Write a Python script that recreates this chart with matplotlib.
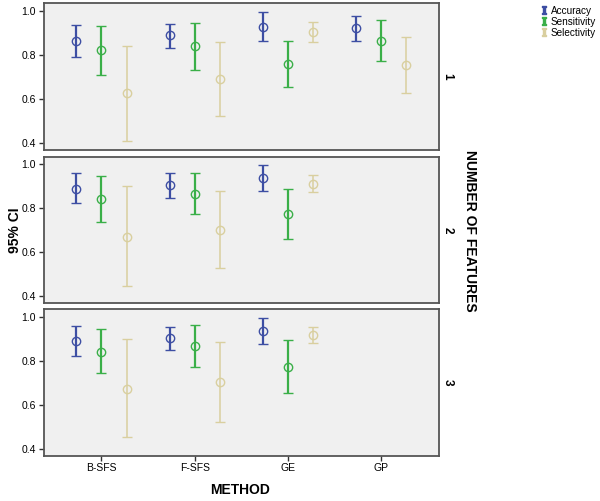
import matplotlib
matplotlib.use("Agg")
import matplotlib.pyplot as plt
from matplotlib.lines import Line2D
import numpy as np

plt.rcParams['font.family'] = ['Liberation Sans', 'DejaVu Sans']

methods = ["B-SFS", "F-SFS", "GE", "GP"]
measures = ["Accuracy", "Sensitivity", "Selectivity"]
panels = ["1", "2", "3"]

# mean, upper, lower per panel, per measure, per method (None = missing)
acc_mean = [[0.864, 0.888, 0.927, 0.920], [0.889, 0.903, 0.936, None], [0.890, 0.901, 0.933, None]]
acc_hi = [[0.936, 0.942, 0.995, 0.977], [0.958, 0.958, 0.995, None], [0.957, 0.954, 0.991, None]]
acc_lo = [[0.788, 0.833, 0.861, 0.861], [0.824, 0.847, 0.876, None], [0.822, 0.848, 0.875, None]]

sens_mean = [[0.821, 0.838, 0.760, 0.865], [0.841, 0.865, 0.773, None], [0.840, 0.864, 0.772, None]]
sens_hi = [[0.933, 0.944, 0.864, 0.956], [0.945, 0.961, 0.886, None], [0.942, 0.961, 0.894, None]]
sens_lo = [[0.710, 0.730, 0.656, 0.771], [0.739, 0.771, 0.659, None], [0.742, 0.769, 0.651, None]]

sel_mean = [[0.626, 0.689, 0.905, 0.753], [0.670, 0.702, 0.912, None], [0.673, 0.704, 0.918, None]]
sel_hi = [[0.839, 0.857, 0.948, 0.879], [0.900, 0.880, 0.953, None], [0.897, 0.885, 0.951, None]]
sel_lo = [[0.410, 0.523, 0.857, 0.627], [0.444, 0.526, 0.873, None], [0.451, 0.522, 0.881, None]]

colors = ["#3d4ea3", "#3aaf48", "#d9cf9f"]
widths = [1.6, 1.6, 1.1]
offsets = [-0.27, 0.0, 0.27]

series = [(acc_mean, acc_hi, acc_lo), (sens_mean, sens_hi, sens_lo), (sel_mean, sel_hi, sel_lo)]

fig = plt.figure(figsize=(6.0, 5.01), dpi=100)
left, width = 0.0728, 0.659
boxes = [(0.7006, 0.9934), (0.3952, 0.6872), (0.0904, 0.3832)]

for p, (b, t) in enumerate(boxes):
    ax = fig.add_axes([left, b, width, t - b])
    ax.set_facecolor("#f0f0f0")
    for k, (m, hi, lo) in enumerate(series):
        for i in range(len(methods)):
            if m[p][i] is None:
                continue
            x = i + offsets[k]
            yerr = [[m[p][i] - lo[p][i]], [hi[p][i] - m[p][i]]]
            ax.errorbar([x], [m[p][i]], yerr=yerr, fmt="o", color=colors[k],
                        mfc="none", mec=colors[k], ms=6, mew=1.0,
                        elinewidth=widths[k], capsize=3.5, capthick=widths[k])
    ax.set_xlim(-0.62, 3.62)
    ax.set_ylim(0.368, 1.034)
    ax.set_yticks([0.4, 0.6, 0.8, 1.0])
    ax.set_yticklabels(["0.4", "0.6", "0.8", "1.0"], fontsize=7.5)
    ax.set_xticks(range(len(methods)))
    if p == 2:
        ax.set_xticklabels(methods, fontsize=7.5)
    else:
        ax.tick_params(axis="x", bottom=False, labelbottom=False)
    ax.tick_params(axis="both", direction="out", length=3.5, width=1, color="#333333", pad=2)
    for s in ax.spines.values():
        s.set_color("#555555")
        s.set_linewidth(1.3)
    ax.text(1.006, 0.5, panels[p], transform=ax.transAxes, rotation=-90,
            ha="left", va="center", fontsize=8.5, fontweight="bold")

fig.text(0.025, 0.54, "95% CI", rotation=90, ha="center", va="center",
         fontsize=10, fontweight="bold")
fig.text(0.40, 0.022, "METHOD", ha="center", va="center",
         fontsize=10, fontweight="bold")
fig.text(0.783, 0.54, "NUMBER OF FEATURES", rotation=-90, ha="center", va="center",
         fontsize=10, fontweight="bold")

handles = [Line2D([], [], linestyle="none", marker=r"$\mathtt{I}$", color=c, ms=5.5)
           for c in colors]
fig.legend(handles, measures, loc="upper left", bbox_to_anchor=(0.893, 1.0),
           frameon=False, fontsize=7.2, handlelength=0.6, handletextpad=0.35,
           labelspacing=0.12, borderaxespad=0.15)

fig.savefig("out.png", dpi=100)
